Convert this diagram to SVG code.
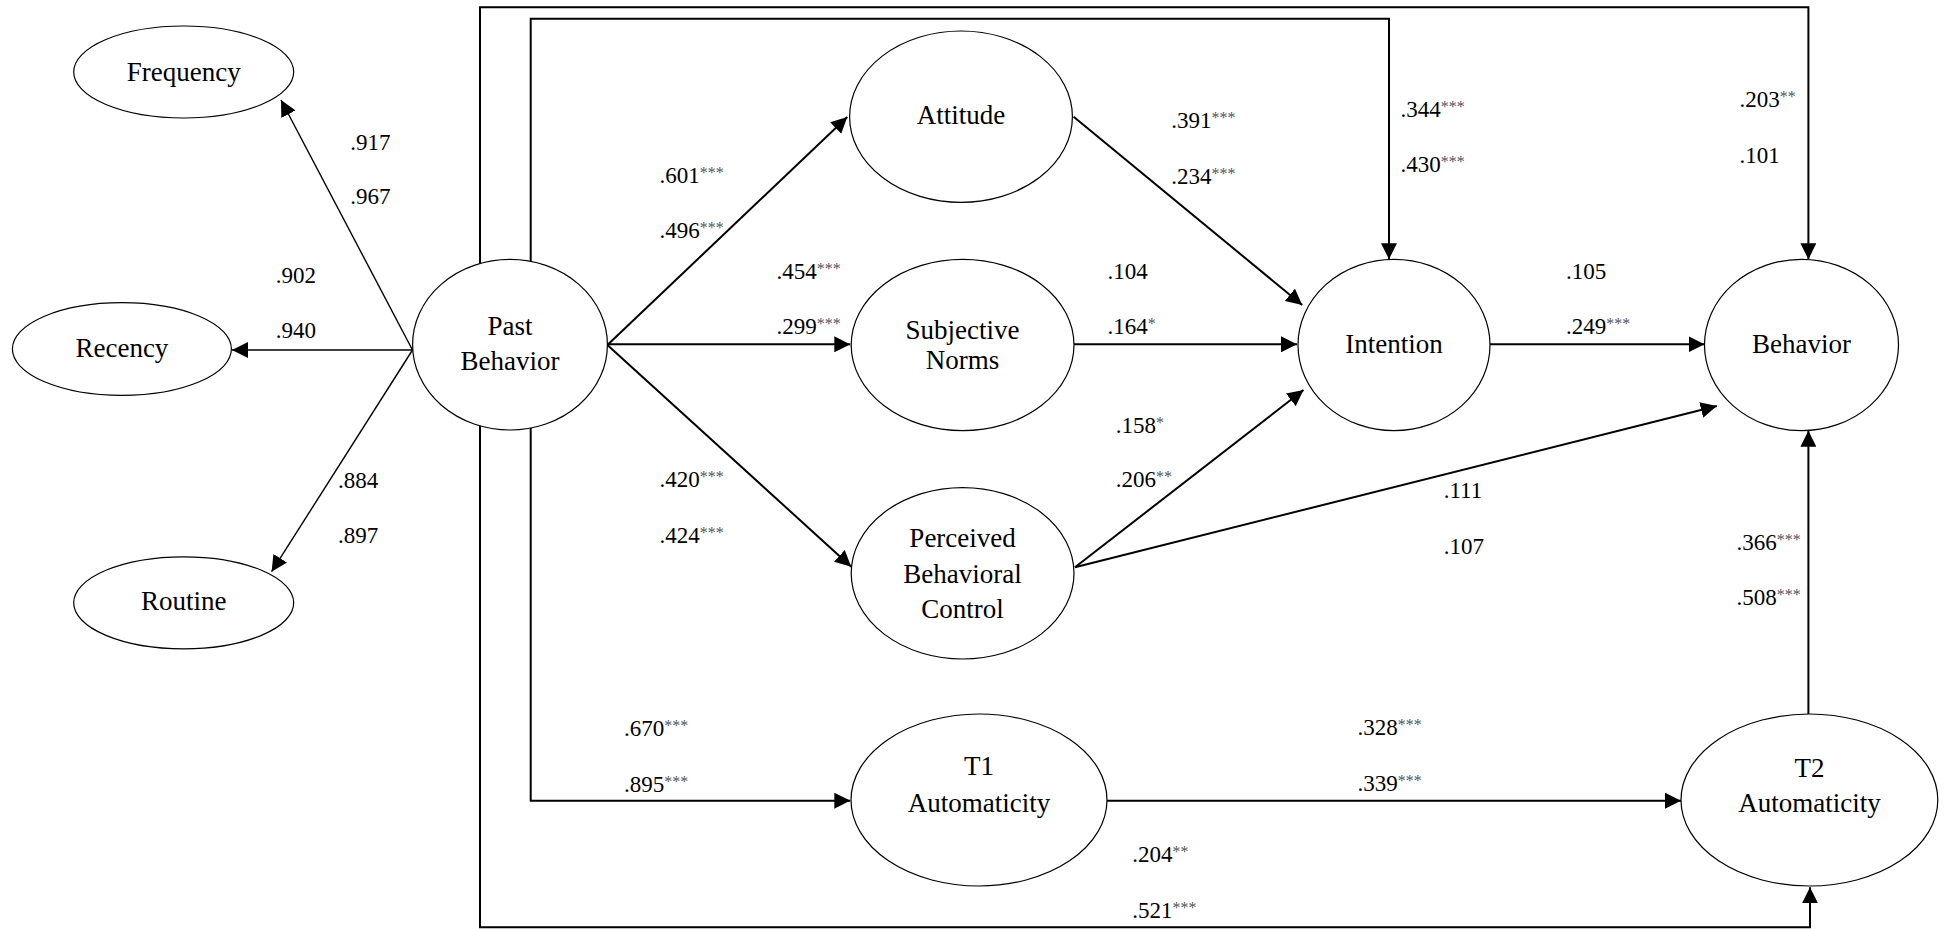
<svg xmlns="http://www.w3.org/2000/svg" width="1944" height="929" viewBox="0 0 1944 929">
<style>
.n{fill:#fff;stroke:#000;stroke-width:1.2}
.t{font-size:27px;text-anchor:middle;fill:#000}
.v{font-size:23px;fill:#000}
.s{font-size:16px;fill:#555}
.c{fill:none;stroke:#000;stroke-width:2}
.l{fill:none;stroke:#000;stroke-width:1.4}
</style>
<defs>
<marker id="a" markerUnits="userSpaceOnUse" markerWidth="16" markerHeight="16" refX="16" refY="8" orient="auto">
<path d="M0,0 L16,8 L0,16 Z" fill="#000"/>
</marker>
</defs>
<rect width="1944" height="929" fill="#fff"/>
<g id="connectors">
<line class="l" x1="412.5" y1="350" x2="281" y2="100" marker-end="url(#a)"/>
<line class="l" x1="412.5" y1="350" x2="232" y2="350" marker-end="url(#a)"/>
<line class="l" x1="412.5" y1="350" x2="271.6" y2="571.7" marker-end="url(#a)"/>
<line class="c" x1="607.4" y1="345" x2="847.3" y2="117" marker-end="url(#a)"/>
<line class="c" x1="607.4" y1="344.3" x2="850.3" y2="344.3" marker-end="url(#a)"/>
<line class="c" x1="607.4" y1="345" x2="851.2" y2="566.7" marker-end="url(#a)"/>
<line class="c" x1="1073.6" y1="116.7" x2="1302.2" y2="305" marker-end="url(#a)"/>
<line class="c" x1="1074" y1="344.3" x2="1297" y2="344.3" marker-end="url(#a)"/>
<line class="c" x1="1075" y1="567.3" x2="1303.5" y2="390" marker-end="url(#a)"/>
<line class="c" x1="1075" y1="567.3" x2="1716.8" y2="406" marker-end="url(#a)"/>
<line class="c" x1="1489.7" y1="344.3" x2="1704.5" y2="344.3" marker-end="url(#a)"/>
<path class="c" d="M530.7,262 V18.7 H1389 V259.3" marker-end="url(#a)"/>
<path class="c" d="M480,264 V7.3 H1808.4 V259.3" marker-end="url(#a)"/>
<path class="c" d="M530.7,428 V800.7 H850.3" marker-end="url(#a)"/>
<path class="c" d="M480,426 V927.3 H1810 V887.3" marker-end="url(#a)"/>
<line class="c" x1="1107" y1="800.7" x2="1681" y2="800.7" marker-end="url(#a)"/>
<line class="c" x1="1808.4" y1="714" x2="1808.4" y2="430.7" marker-end="url(#a)"/>
</g>
<g font-family="'Liberation Serif', 'DejaVu Serif', serif">
<g id="frequency"><ellipse class="n" cx="183.7" cy="72" rx="110" ry="46"/><text class="t" x="183.7" y="80.7">Frequency</text></g>
<g id="recency"><ellipse class="n" cx="121.9" cy="349" rx="109.5" ry="46.3"/><text class="t" x="121.9" y="356.7">Recency</text></g>
<g id="routine"><ellipse class="n" cx="183.7" cy="602.8" rx="110" ry="46"/><text class="t" x="183.7" y="610">Routine</text></g>
<g id="past-behavior"><ellipse class="n" cx="510" cy="344.7" rx="97.4" ry="85.3"/><text class="t" x="510" y="335">Past</text><text class="t" x="510" y="370">Behavior</text></g>
<g id="attitude"><ellipse class="n" cx="961" cy="116.7" rx="111.4" ry="85.7"/><text class="t" x="961" y="124">Attitude</text></g>
<g id="subjective-norms"><ellipse class="n" cx="962.6" cy="345" rx="111.4" ry="85.7"/><text class="t" x="962.6" y="339.3">Subjective</text><text class="t" x="962.6" y="369.3">Norms</text></g>
<g id="pbc"><ellipse class="n" cx="962.6" cy="573.3" rx="111.4" ry="85.7"/><text class="t" x="962.6" y="547.3">Perceived</text><text class="t" x="962.6" y="582.7">Behavioral</text><text class="t" x="962.6" y="618.3">Control</text></g>
<g id="t1"><ellipse class="n" cx="979" cy="800" rx="128" ry="86"/><text class="t" x="979" y="775">T1</text><text class="t" x="979" y="811.7">Automaticity</text></g>
<g id="intention"><ellipse class="n" cx="1394" cy="345" rx="96" ry="85.7"/><text class="t" x="1394" y="352.7">Intention</text></g>
<g id="behavior"><ellipse class="n" cx="1801.5" cy="345" rx="97" ry="85.7"/><text class="t" x="1801.5" y="352.7">Behavior</text></g>
<g id="t2"><ellipse class="n" cx="1809.4" cy="800" rx="128.4" ry="86"/><text class="t" x="1809.4" y="776.7">T2</text><text class="t" x="1809.4" y="811.7">Automaticity</text></g>
<g id="labels">
<text class="v" x="350.3" y="150">.917</text>
<text class="v" x="350.3" y="204">.967</text>
<text class="v" x="275.7" y="282.7">.902</text>
<text class="v" x="275.7" y="338.3">.940</text>
<text class="v" x="338" y="488.3">.884</text>
<text class="v" x="338" y="543.3">.897</text>
<text class="v" x="659.5" y="183.3">.601<tspan class="s" dy="-5">***</tspan></text>
<text class="v" x="659.5" y="238.3">.496<tspan class="s" dy="-5">***</tspan></text>
<text class="v" x="776.6" y="279.3">.454<tspan class="s" dy="-5">***</tspan></text>
<text class="v" x="776.6" y="334.3">.299<tspan class="s" dy="-5">***</tspan></text>
<text class="v" x="659.5" y="487.3">.420<tspan class="s" dy="-5">***</tspan></text>
<text class="v" x="659.5" y="542.7">.424<tspan class="s" dy="-5">***</tspan></text>
<text class="v" x="624" y="736">.670<tspan class="s" dy="-5">***</tspan></text>
<text class="v" x="624" y="791.7">.895<tspan class="s" dy="-5">***</tspan></text>
<text class="v" x="1171.2" y="128.3">.391<tspan class="s" dy="-5">***</tspan></text>
<text class="v" x="1171.2" y="184">.234<tspan class="s" dy="-5">***</tspan></text>
<text class="v" x="1107.5" y="279.3">.104</text>
<text class="v" x="1107.5" y="334">.164<tspan class="s" dy="-5">*</tspan></text>
<text class="v" x="1115.7" y="433.3">.158<tspan class="s" dy="-5">*</tspan></text>
<text class="v" x="1115.7" y="487.3">.206<tspan class="s" dy="-5">**</tspan></text>
<text class="v" x="1132.2" y="861.7">.204<tspan class="s" dy="-5">**</tspan></text>
<text class="v" x="1132.2" y="918.3">.521<tspan class="s" dy="-5">***</tspan></text>
<text class="v" x="1400.6" y="116.7">.344<tspan class="s" dy="-5">***</tspan></text>
<text class="v" x="1400.6" y="171.7">.430<tspan class="s" dy="-5">***</tspan></text>
<text class="v" x="1739.4" y="107.3">.203<tspan class="s" dy="-5">**</tspan></text>
<text class="v" x="1739.4" y="163.3">.101</text>
<text class="v" x="1566" y="279.3">.105</text>
<text class="v" x="1566" y="334.3">.249<tspan class="s" dy="-5">***</tspan></text>
<text class="v" x="1443.7" y="498.3">.111</text>
<text class="v" x="1443.7" y="554">.107</text>
<text class="v" x="1736.6" y="550">.366<tspan class="s" dy="-5">***</tspan></text>
<text class="v" x="1736.6" y="605">.508<tspan class="s" dy="-5">***</tspan></text>
<text class="v" x="1357.5" y="735">.328<tspan class="s" dy="-5">***</tspan></text>
<text class="v" x="1357.5" y="790.7">.339<tspan class="s" dy="-5">***</tspan></text>
</g>
</g>
</svg>
